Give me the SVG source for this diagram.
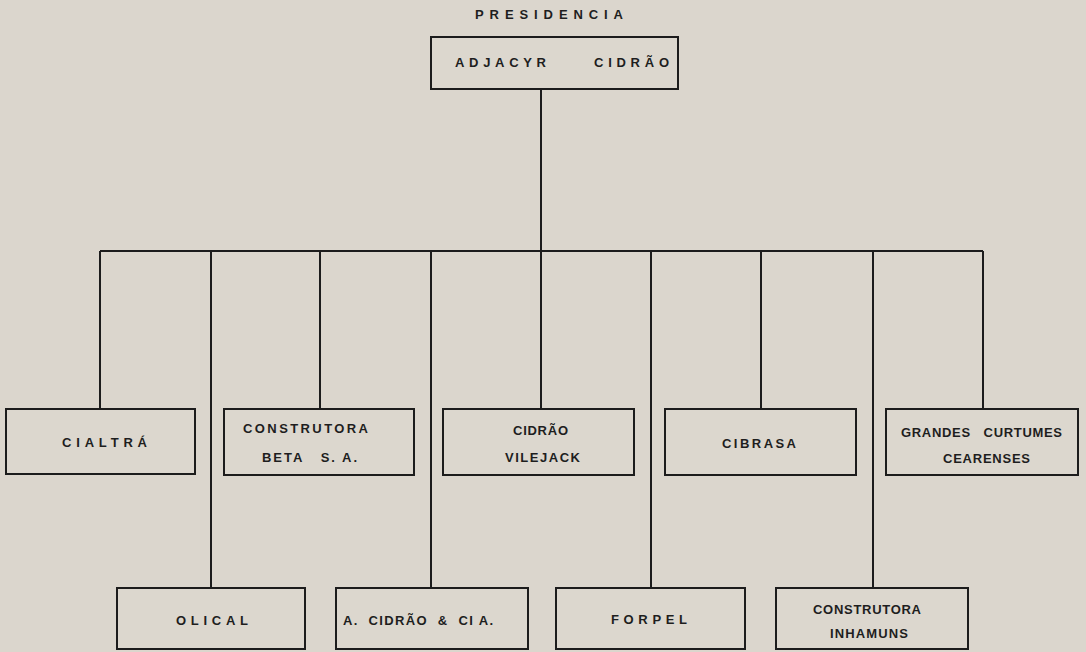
<svg xmlns="http://www.w3.org/2000/svg" width="1086" height="652" viewBox="0 0 1086 652">
<style>
.bg{fill:#dbd6cd}
.box{fill:#dcd7ce;stroke:#1c1c1c;stroke-width:2}
.ln{stroke:#1c1c1c;stroke-width:2;fill:none}
text{font-family:"Liberation Sans",Arial,sans-serif;font-weight:bold;font-size:13px;fill:#1e1e1e;text-anchor:start}
</style>
<rect class="bg" x="0" y="0" width="1086" height="652"/>
<g id="connectors">
<path class="ln" d="M541 89V251M100 251H983"/>
<path class="ln" d="M100 251V409M211 251V588M320 251V409M431 251V588M541 251V409M651 251V588M761 251V409M873 251V588M983 251V409"/>
</g>
<text x="475" y="19" textLength="148" lengthAdjust="spacing">PRESIDENCIA</text>
<g id="adjacyr">
<rect class="box" x="431" y="37" width="247" height="52"/>
<text x="455" y="67" textLength="91" lengthAdjust="spacing">ADJACYR</text>
<text x="594" y="67" textLength="75" lengthAdjust="spacing">CIDRÃO</text>
</g>
<g id="cialtra">
<rect class="box" x="6" y="409" width="189" height="65"/>
<text x="62" y="447" textLength="85" lengthAdjust="spacing">CIALTRÁ</text>
</g>
<g id="beta">
<rect class="box" x="224" y="409" width="190" height="66"/>
<text x="243" y="433" textLength="125" lengthAdjust="spacing">CONSTRUTORA</text>
<text x="262" y="462" textLength="95" lengthAdjust="spacing" xml:space="preserve">BETA   S. A.</text>
</g>
<g id="vilejack">
<rect class="box" x="443" y="409" width="191" height="66"/>
<text x="513" y="435" textLength="55" lengthAdjust="spacing">CIDRÃO</text>
<text x="505" y="462" textLength="75" lengthAdjust="spacing">VILEJACK</text>
</g>
<g id="cibrasa">
<rect class="box" x="665" y="409" width="191" height="66"/>
<text x="722" y="448" textLength="74" lengthAdjust="spacing">CIBRASA</text>
</g>
<g id="grandes">
<rect class="box" x="886" y="409" width="192" height="66"/>
<text x="901" y="437" textLength="161" lengthAdjust="spacing" xml:space="preserve">GRANDES   CURTUMES</text>
<text x="943" y="463" textLength="87" lengthAdjust="spacing">CEARENSES</text>
</g>
<g id="olical">
<rect class="box" x="117" y="588" width="188" height="61"/>
<text x="176" y="625" textLength="72" lengthAdjust="spacing">OLICAL</text>
</g>
<g id="acidrao">
<rect class="box" x="336" y="588" width="192" height="61"/>
<text x="343" y="625" textLength="150" lengthAdjust="spacing" xml:space="preserve">A.  CIDRÃO  &amp;  CI A.</text>
</g>
<g id="forpel">
<rect class="box" x="556" y="588" width="189" height="61"/>
<text x="611" y="624" textLength="76" lengthAdjust="spacing">FORPEL</text>
</g>
<g id="inhamuns">
<rect class="box" x="776" y="588" width="192" height="61"/>
<text x="813" y="614" textLength="108" lengthAdjust="spacing">CONSTRUTORA</text>
<text x="830" y="638" textLength="78" lengthAdjust="spacing">INHAMUNS</text>
</g>
</svg>
